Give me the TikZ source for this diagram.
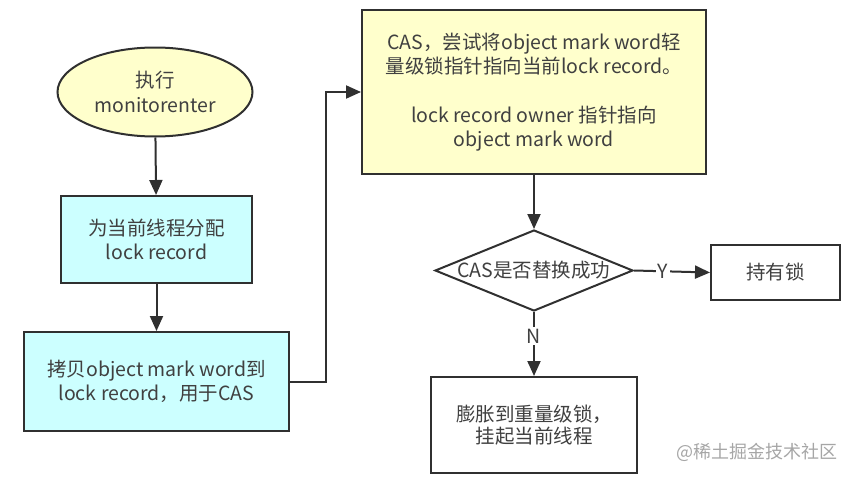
\documentclass[tikz,border=0pt]{standalone}
\usepackage{fontspec}
\setmainfont{Noto Sans CJK SC}
\usetikzlibrary{shapes.geometric,arrows.meta}
\definecolor{edge}{HTML}{303030}
\definecolor{txt}{HTML}{404040}
\definecolor{yel}{HTML}{FFFFCC}
\definecolor{cyn}{HTML}{CCFFFF}
\tikzset{
  base/.style={draw=edge,line width=2pt,text=txt,font=\fontsize{19.5}{24.5}\selectfont,align=center,inner sep=0pt},
  boxy/.style={base,rectangle,fill=yel},
  boxc/.style={base,rectangle,fill=cyn},
  boxw/.style={base,rectangle,fill=white},
  arr/.style={draw=edge,line width=2pt,-{Triangle[width=13pt,length=15pt]}},
  lbl/.style={fill=white,text=txt,font=\fontsize{19.5}{22}\selectfont,inner sep=2pt}
}
\begin{document}
\begin{tikzpicture}[x=1pt,y=-1pt]
\useasboundingbox (0,0) rectangle (861,479);
\node[base,ellipse,fill=yel,minimum width=195pt,minimum height=89pt] (start) at (155,92) {执行\\monitorenter};
\node[boxc,minimum width=191pt,minimum height=87pt] (alloc) at (156.5,239.5) {为当前线程分配\\lock record};
\node[boxc,minimum width=265pt,minimum height=99pt] (copy) at (156.5,381.5) {拷贝object mark word到\\lock record，用于CAS};
\node[boxy,minimum width=344pt,minimum height=164pt] (cas) at (534,92) {CAS，尝试将object mark word轻\\量级锁指针指向当前lock record。\\[24pt]lock record owner 指针指向\\object mark word};
\node[base,diamond,aspect=2.44,fill=white,minimum width=198pt,minimum height=81pt,inner sep=0pt] (dec) at (534,270.5) {CAS是否替换成功};
\node[boxw,minimum width=129pt,minimum height=55pt] (hold) at (775.5,272.5) {持有锁};
\node[boxw,minimum width=206pt,minimum height=96pt,font=\fontsize{19.5}{22.5}\selectfont] (inflate) at (534,425) {膨胀到重量级锁，\\挂起当前线程};
\coordinate (bend) at (326,381.5);
\draw[arr] (start) -- (alloc);
\draw[arr] (alloc) -- (copy);
\draw[arr] (copy.east) -- (bend) |- (cas.west);
\draw[arr] (cas) -- (dec);
\draw[arr] (dec.east) -- node[lbl,pos=0.38] {Y} (hold.west);
\draw[arr] (dec.south) -- node[lbl,pos=0.38] {N} (inflate.north);
\node[text=black!35,font=\fontsize{18}{20}\selectfont,inner sep=0pt] (wm) at (757,452) {@稀土掘金技术社区};
\end{tikzpicture}
\end{document}
